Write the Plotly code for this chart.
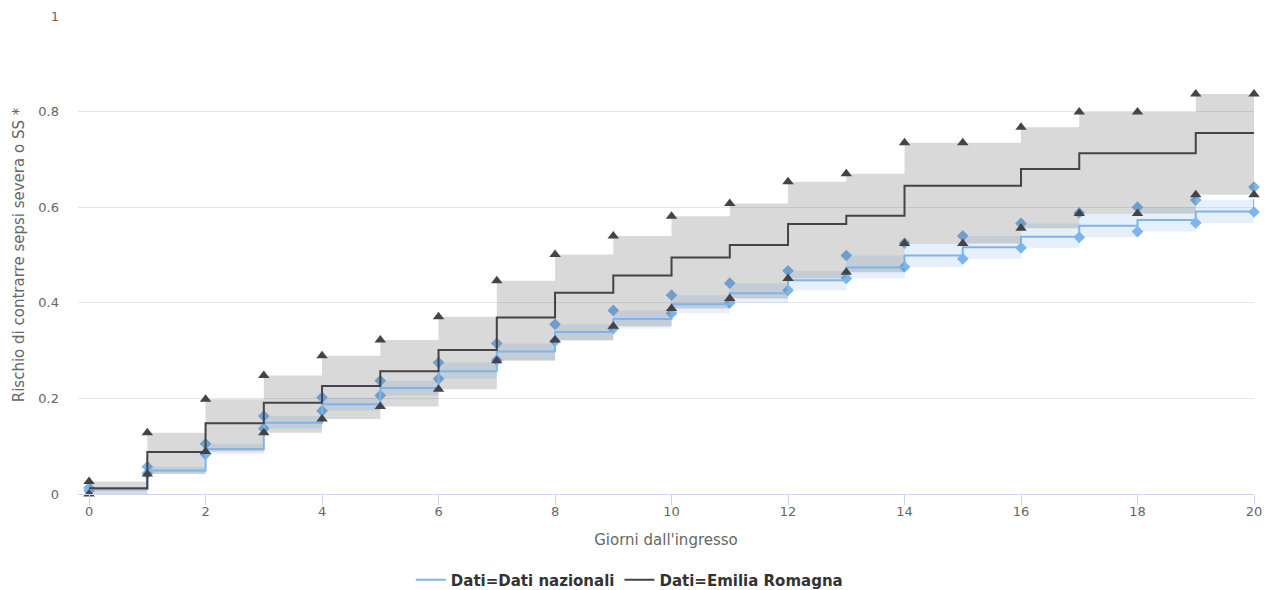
import plotly.graph_objects as go

# ---- data -------------------------------------------------------------
giorni = list(range(0, 21))

naz_val = [0.010, 0.049, 0.094, 0.149, 0.188, 0.222, 0.257, 0.298, 0.339, 0.366, 0.397,
           0.420, 0.447, 0.474, 0.499, 0.516, 0.538, 0.561, 0.573, 0.591, 0.617]
naz_upper = [0.013, 0.057, 0.105, 0.163, 0.202, 0.237, 0.275, 0.315, 0.355, 0.384, 0.416,
             0.441, 0.467, 0.499, 0.525, 0.540, 0.566, 0.588, 0.600, 0.615, 0.642]
naz_lower = [0.007, 0.043, 0.083, 0.137, 0.174, 0.206, 0.241, 0.280, 0.320, 0.346, 0.378,
             0.400, 0.426, 0.451, 0.475, 0.492, 0.515, 0.537, 0.549, 0.567, 0.590]

er_val = [0.012, 0.088, 0.148, 0.191, 0.226, 0.257, 0.301, 0.369, 0.421, 0.457, 0.495,
          0.521, 0.565, 0.582, 0.645, 0.645, 0.680, 0.713, 0.713, 0.755, 0.755]
er_upper = [0.026, 0.128, 0.198, 0.248, 0.289, 0.322, 0.371, 0.446, 0.501, 0.540, 0.581,
            0.608, 0.653, 0.670, 0.735, 0.735, 0.767, 0.799, 0.799, 0.837, 0.837]
er_lower = [0.000, 0.042, 0.089, 0.128, 0.157, 0.183, 0.219, 0.279, 0.322, 0.351, 0.388,
            0.409, 0.451, 0.464, 0.524, 0.524, 0.556, 0.587, 0.587, 0.626, 0.626]

serie_nomi = ["Dati=Dati nazionali", "Dati=Emilia Romagna"]
x_ticks = [0, 2, 4, 6, 8, 10, 12, 14, 16, 18, 20]
y_ticks = [0, 0.2, 0.4, 0.6, 0.8, 1]
y_ticktext = ["0", "0.2", "0.4", "0.6", "0.8", "1"]

BLUE = "#7cb5ec"
DARK = "#434348"

fig = go.Figure()

# National CI band
fig.add_trace(go.Scatter(x=giorni, y=naz_lower, mode="lines", line=dict(width=0, shape="hv"),
                         showlegend=False, hoverinfo="skip"))
fig.add_trace(go.Scatter(x=giorni, y=naz_upper, mode="lines", line=dict(width=0, shape="hv"),
                         fill="tonexty", fillcolor="rgba(124,181,236,0.2)",
                         showlegend=False, hoverinfo="skip"))
fig.add_trace(go.Scatter(x=giorni + giorni, y=naz_upper + naz_lower, mode="markers",
                         marker=dict(symbol="diamond", size=9, color=BLUE),
                         cliponaxis=False, showlegend=False))

# Emilia Romagna CI band
fig.add_trace(go.Scatter(x=giorni, y=er_lower, mode="lines", line=dict(width=0, shape="hv"),
                         showlegend=False, hoverinfo="skip"))
fig.add_trace(go.Scatter(x=giorni, y=er_upper, mode="lines", line=dict(width=0, shape="hv"),
                         fill="tonexty", fillcolor="rgba(67,67,72,0.2)",
                         showlegend=False, hoverinfo="skip"))

# Main lines
fig.add_trace(go.Scatter(x=giorni, y=naz_val, mode="lines", name=serie_nomi[0],
                         line=dict(color=BLUE, width=2, shape="hv")))
fig.add_trace(go.Scatter(x=giorni, y=er_val, mode="lines", name=serie_nomi[1],
                         line=dict(color=DARK, width=2, shape="hv")))

fig.add_trace(go.Scatter(x=giorni + giorni, y=er_upper + er_lower, mode="markers",
                         marker=dict(symbol="triangle-up", size=10, color=DARK),
                         cliponaxis=False, showlegend=False))

# the page body has an 8px margin, so the figure is sized to fit inside it
fig.update_layout(
    width=1268, height=582,
    margin=dict(l=70, r=22, t=8, b=96, autoexpand=False),
    plot_bgcolor="white", paper_bgcolor="white",
    font=dict(family="DejaVu Sans", color="#666666", size=13),
    legend=dict(orientation="h", xref="container", yref="container",
                x=0.49, xanchor="center", y=0.017, yanchor="middle",
                font=dict(size=15, color="#333333", weight="bold"),
                traceorder="normal"),
    xaxis=dict(range=[-0.19, 20], tickvals=x_ticks, ticks="outside", ticklen=10,
               tickcolor="#ccd6eb", showline=True, linecolor="#ccd6eb", linewidth=1,
               showgrid=False, zeroline=False, automargin=False,
               ticklabelstandoff=-5,
               tickfont=dict(size=13, color="#666666"),
               title=dict(text="Giorni dall'ingresso", font=dict(size=15, color="#666666"),
                          standoff=16)),
    yaxis=dict(range=[0, 1], tickvals=y_ticks, ticktext=y_ticktext, showgrid=True,
               gridcolor="#e6e6e6", zeroline=False, showline=False, automargin=False,
               ticklabelstandoff=18,
               tickfont=dict(size=13, color="#666666"),
               title=dict(text="Rischio di contrarre sepsi severa o SS *",
                          font=dict(size=15, color="#666666"), standoff=10)),
)

fig.write_html("out.html")
